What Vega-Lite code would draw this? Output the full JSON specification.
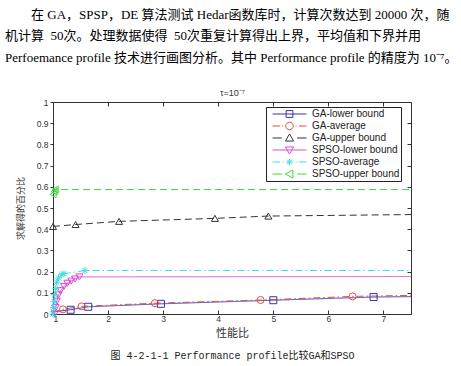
{
  "$schema": "https://vega.github.io/schema/vega-lite/v6.json",
  "width": 358,
  "height": 212,
  "autosize": {"type": "none"},
  "padding": {"left": 53, "top": 102, "right": 50, "bottom": 52},
  "background": "white",
  "config": {"view": {"stroke": null}},
  "title": {
    "text": [
      "\u200b\u00a0\u00a0\u00a0\u00a0\u00a0\u00a0\u00a0\u00a0在 GA，SPSP，DE 算法测试 Hedar函数库时，计算次数达到 20000 次，随",
      "机计算 \u00a050次。处理数据使得 \u00a050次重复计算得出上界，平均值和下界并用",
      "Perfoemance profile 技术进行画图分析。其中 Performance profile 的精度为 10⁻⁷。"
    ],
    "anchor": "start",
    "frame": "group",
    "dx": -48,
    "font": "Liberation Serif, Noto Sans CJK SC",
    "fontSize": 13,
    "fontWeight": "normal",
    "lineHeight": 21.5,
    "color": "#000000",
    "offset": 24
  },
  "datasets": {
    "curves": [
      {"series": "GA-lower bound", "x": 1.0, "y": 0.01, "role": "end"},
      {"series": "GA-lower bound", "x": 1.32, "y": 0.02, "role": "marker"},
      {"series": "GA-lower bound", "x": 1.64, "y": 0.034, "role": "marker"},
      {"series": "GA-lower bound", "x": 2.96, "y": 0.048, "role": "marker"},
      {"series": "GA-lower bound", "x": 5.0, "y": 0.065, "role": "marker"},
      {"series": "GA-lower bound", "x": 6.82, "y": 0.08, "role": "marker"},
      {"series": "GA-lower bound", "x": 7.5, "y": 0.082, "role": "end"},
      {"series": "GA-average", "x": 1.0, "y": 0.008, "role": "end"},
      {"series": "GA-average", "x": 1.18, "y": 0.022, "role": "marker"},
      {"series": "GA-average", "x": 1.52, "y": 0.036, "role": "marker"},
      {"series": "GA-average", "x": 2.85, "y": 0.051, "role": "marker"},
      {"series": "GA-average", "x": 4.77, "y": 0.066, "role": "marker"},
      {"series": "GA-average", "x": 6.44, "y": 0.083, "role": "marker"},
      {"series": "GA-average", "x": 7.5, "y": 0.088, "role": "end"},
      {"series": "GA-upper bound", "x": 1.0, "y": 0.413, "role": "marker"},
      {"series": "GA-upper bound", "x": 1.41, "y": 0.422, "role": "marker"},
      {"series": "GA-upper bound", "x": 2.2, "y": 0.437, "role": "marker"},
      {"series": "GA-upper bound", "x": 3.94, "y": 0.451, "role": "marker"},
      {"series": "GA-upper bound", "x": 4.91, "y": 0.462, "role": "marker"},
      {"series": "GA-upper bound", "x": 7.5, "y": 0.469, "role": "end"},
      {"series": "SPSO-lower bound", "x": 1.03, "y": 0.0, "role": "marker"},
      {"series": "SPSO-lower bound", "x": 1.05, "y": 0.03, "role": "marker"},
      {"series": "SPSO-lower bound", "x": 1.07, "y": 0.06, "role": "marker"},
      {"series": "SPSO-lower bound", "x": 1.1, "y": 0.09, "role": "marker"},
      {"series": "SPSO-lower bound", "x": 1.14, "y": 0.11, "role": "marker"},
      {"series": "SPSO-lower bound", "x": 1.2, "y": 0.13, "role": "marker"},
      {"series": "SPSO-lower bound", "x": 1.26, "y": 0.145, "role": "marker"},
      {"series": "SPSO-lower bound", "x": 1.33, "y": 0.155, "role": "marker"},
      {"series": "SPSO-lower bound", "x": 1.4, "y": 0.165, "role": "marker"},
      {"series": "SPSO-lower bound", "x": 1.48, "y": 0.175, "role": "marker"},
      {"series": "SPSO-lower bound", "x": 7.5, "y": 0.177, "role": "end"},
      {"series": "SPSO-average", "x": 1.0, "y": 0.0, "role": "marker"},
      {"series": "SPSO-average", "x": 1.01, "y": 0.03, "role": "marker"},
      {"series": "SPSO-average", "x": 1.02, "y": 0.06, "role": "marker"},
      {"series": "SPSO-average", "x": 1.03, "y": 0.09, "role": "marker"},
      {"series": "SPSO-average", "x": 1.05, "y": 0.12, "role": "marker"},
      {"series": "SPSO-average", "x": 1.07, "y": 0.15, "role": "marker"},
      {"series": "SPSO-average", "x": 1.1, "y": 0.17, "role": "marker"},
      {"series": "SPSO-average", "x": 1.15, "y": 0.185, "role": "marker"},
      {"series": "SPSO-average", "x": 1.2, "y": 0.19, "role": "marker"},
      {"series": "SPSO-average", "x": 1.58, "y": 0.205, "role": "marker"},
      {"series": "SPSO-average", "x": 7.5, "y": 0.205, "role": "end"},
      {"series": "SPSO-upper bound", "x": 1.0, "y": 0.565, "role": "marker"},
      {"series": "SPSO-upper bound", "x": 1.02, "y": 0.578, "role": "marker"},
      {"series": "SPSO-upper bound", "x": 1.04, "y": 0.587, "role": "marker"},
      {"series": "SPSO-upper bound", "x": 7.5, "y": 0.587, "role": "end"}
    ]
  },
  "data": {"name": "curves"},
  "layer": [
    {
      "mark": {"type": "line", "strokeWidth": 1},
      "encoding": {
        "x": {
          "field": "x", "type": "quantitative",
          "scale": {"domain": [1, 7.5], "nice": false, "zero": false},
          "axis": {
            "orient": "bottom", "values": [1, 2, 3, 4, 5, 6, 7], "grid": false,
            "title": "性能比", "titleFont": "Noto Sans CJK SC", "titleFontSize": 11, "titleFontWeight": "normal", "titleColor": "#333333", "titlePadding": 5,
            "tickSize": -4, "tickColor": "#333333", "domainColor": "#333333",
            "labelFont": "Liberation Sans", "labelFontSize": 8.5, "labelColor": "#333333", "labelPadding": 4
          }
        },
        "y": {
          "field": "y", "type": "quantitative",
          "scale": {"domain": [0, 1], "nice": false},
          "axis": {
            "orient": "left", "values": [0, 0.1, 0.2, 0.3, 0.4, 0.5, 0.6, 0.7, 0.8, 0.9, 1], "format": "~g", "grid": false,
            "title": "求解得的百分比", "titleFont": "Noto Sans CJK SC", "titleFontSize": 9, "titleFontWeight": "normal", "titleColor": "#333333", "titlePadding": 11,
            "tickSize": 3, "tickColor": "#333333", "domainColor": "#333333",
            "labelFont": "Liberation Sans", "labelFontSize": 8.5, "labelColor": "#333333", "labelPadding": 2
          }
        },
        "color": {
          "field": "series", "type": "nominal",
          "scale": {
            "domain": ["GA-lower bound", "GA-average", "GA-upper bound", "SPSO-lower bound", "SPSO-average", "SPSO-upper bound"],
            "range": ["#3535b5", "#e05040", "#333333", "#d84cd8", "#40dcdc", "#3cd83c"]
          },
          "legend": null
        },
        "strokeDash": {
          "field": "series", "type": "nominal",
          "scale": {
            "domain": ["GA-lower bound", "GA-average", "GA-upper bound", "SPSO-lower bound", "SPSO-average", "SPSO-upper bound"],
            "range": [[1, 0], [7, 3, 1.5, 3], [7, 4], [1, 0], [7, 3, 1.5, 3], [7, 4]]
          },
          "legend": null
        }
      }
    },
    {
      "transform": [{"filter": "datum.role == 'marker'"}],
      "mark": {"type": "point", "filled": false, "size": 49, "strokeWidth": 1, "opacity": 1},
      "encoding": {
        "x": {
          "field": "x", "type": "quantitative",
          "axis": {
            "orient": "top", "values": [1, 2, 3, 4, 5, 6, 7], "grid": false, "labels": false,
            "title": "τ=10⁻⁷", "titleFont": "Liberation Sans", "titleFontSize": 9, "titleFontWeight": "normal", "titleColor": "#333333", "titlePadding": 4,
            "tickSize": -4, "tickColor": "#333333", "domainColor": "#333333"
          }
        },
        "y": {
          "field": "y", "type": "quantitative",
          "axis": {
            "orient": "right", "values": [0, 0.1, 0.2, 0.3, 0.4, 0.5, 0.6, 0.7, 0.8, 0.9, 1], "grid": false, "labels": false, "title": null,
            "tickSize": -4, "tickColor": "#333333", "domainColor": "#333333"
          }
        },
        "color": {
          "field": "series", "type": "nominal",
          "scale": {
            "domain": ["GA-lower bound", "GA-average", "GA-upper bound", "SPSO-lower bound", "SPSO-average", "SPSO-upper bound"],
            "range": ["#3535b5", "#e05040", "#333333", "#d84cd8", "#40dcdc", "#3cd83c"]
          },
          "legend": null
        },
        "shape": {
          "field": "series", "type": "nominal",
          "scale": {
            "domain": ["GA-lower bound", "GA-average", "GA-upper bound", "SPSO-lower bound", "SPSO-average", "SPSO-upper bound"],
            "range": ["square", "circle", "triangle-up", "triangle-down", "M-1,0H1M0,-1V1M-0.7,-0.7L0.7,0.7M-0.7,0.7L0.7,-0.7", "triangle-left"]
          },
          "legend": null
        }
      }
    },
    {
      "transform": [{"filter": "datum.role == 'marker'"}],
      "mark": {"type": "point", "filled": false, "size": 49, "strokeWidth": 1, "opacity": 0},
      "encoding": {
        "x": {
          "field": "x", "type": "quantitative",
          "axis": {
            "orient": "bottom", "labels": false, "ticks": false, "domain": false, "grid": false,
            "title": "图 4-2-1-1  Performance profile比较GA和SPSO",
            "titleFont": "Liberation Mono, Noto Sans CJK SC", "titleFontSize": 10, "titleFontWeight": "normal", "titleColor": "#222222", "titlePadding": 36
          }
        },
        "y": {"field": "y", "type": "quantitative", "axis": null},
        "color": {
          "field": "series", "type": "nominal",
          "scale": {
            "domain": ["GA-lower bound", "GA-average", "GA-upper bound", "SPSO-lower bound", "SPSO-average", "SPSO-upper bound"],
            "range": ["#3535b5", "#e05040", "#333333", "#d84cd8", "#40dcdc", "#3cd83c"]
          },
          "legend": {
            "orient": "none", "legendX": 213, "legendY": 5, "title": null,
            "strokeColor": "#222222", "fillColor": "white", "padding": 1,
            "symbolSize": 1156, "clipHeight": 12, "rowPadding": 0, "symbolOffset": 5, "labelOffset": 5,
            "labelFont": "Liberation Sans", "labelFontSize": 10, "labelColor": "#222222",
            "symbolStrokeWidth": 1, "symbolOpacity": 1
          }
        },
        "shape": {
          "field": "series", "type": "nominal",
          "scale": {
            "domain": ["GA-lower bound", "GA-average", "GA-upper bound", "SPSO-lower bound", "SPSO-average", "SPSO-upper bound"],
            "range": [
              "M-1,0H1M-0.2,-0.2H0.2V0.2H-0.2Z",
              "M-1,0H-0.55M-0.42,0H-0.36M0.36,0H0.42M0.55,0H1M-0.22,0A0.22,0.22,0,1,0,0.22,0A0.22,0.22,0,1,0,-0.22,0Z",
              "M-1,0H-0.45M0.45,0H1M0,-0.24L0.24,0.18H-0.24Z",
              "M-1,0H1M0,0.24L0.24,-0.18H-0.24Z",
              "M-1,0H-0.55M-0.42,0H-0.36M0.36,0H0.42M0.55,0H1M-0.2,0H0.2M0,-0.2V0.2M-0.14,-0.14L0.14,0.14M-0.14,0.14L0.14,-0.14",
              "M-1,0H-0.45M0.45,0H1M-0.24,0L0.2,-0.24V0.24Z"
            ]
          },
          "legend": {
            "orient": "none", "legendX": 213, "legendY": 5, "title": null,
            "strokeColor": "#222222", "fillColor": "white", "padding": 1,
            "symbolSize": 1156, "clipHeight": 12, "rowPadding": 0, "symbolOffset": 5, "labelOffset": 5,
            "labelFont": "Liberation Sans", "labelFontSize": 10, "labelColor": "#222222",
            "symbolStrokeWidth": 1, "symbolOpacity": 1
          }
        }
      }
    }
  ],
  "resolve": {"scale": {"shape": "independent", "color": "independent"}, "axis": {"x": "independent", "y": "independent"}}
}
